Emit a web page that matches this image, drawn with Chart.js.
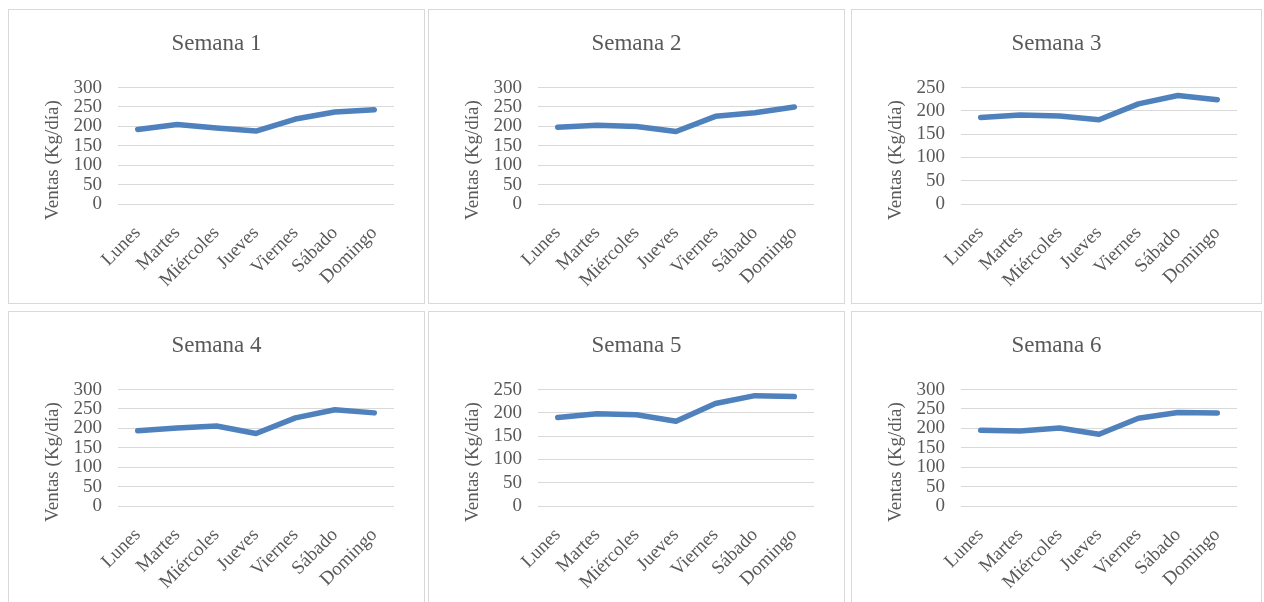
<!DOCTYPE html>
<html>
<head>
<meta charset="utf-8">
<script src="https://cdn.jsdelivr.net/npm/chart.js@4/dist/chart.umd.min.js"></script>
<style>
  html, body { margin: 0; padding: 0; background: #fff; overflow: hidden; width: 1264px; height: 602px; }
  .panel { position: absolute; box-sizing: border-box; border: 1px solid #d9d9d9; background: #fff; }
  .panel canvas { display: block; }
</style>
</head>
<body>
<div class="panel" style="left:8px;top:9px;width:417px;height:295px"><canvas id="c1" width="415" height="293"></canvas></div>
<div class="panel" style="left:428px;top:9px;width:417px;height:295px"><canvas id="c2" width="415" height="293"></canvas></div>
<div class="panel" style="left:851px;top:9px;width:411px;height:295px"><canvas id="c3" width="409" height="293"></canvas></div>
<div class="panel" style="left:8px;top:311px;width:417px;height:295px"><canvas id="c4" width="415" height="293"></canvas></div>
<div class="panel" style="left:428px;top:311px;width:417px;height:295px"><canvas id="c5" width="415" height="293"></canvas></div>
<div class="panel" style="left:851px;top:311px;width:411px;height:295px"><canvas id="c6" width="409" height="293"></canvas></div>
<script>
// datos (Kg/dia)
const dias = ['Lunes', 'Martes', 'Miércoles', 'Jueves', 'Viernes', 'Sábado', 'Domingo'];
const semana1 = [192, 205, 196, 188, 219, 237, 243];
const semana2 = [198, 203, 200, 187, 226, 235, 250];
const semana3 = [186, 191, 189, 181, 215, 233, 224];
const semana4 = [194, 201, 206, 187, 227, 248, 240];
const semana5 = [190, 198, 196, 182, 220, 237, 235];
const semana6 = [195, 193, 201, 185, 226, 241, 240];
const titulos = ['Semana 1', 'Semana 2', 'Semana 3', 'Semana 4', 'Semana 5', 'Semana 6'];
const maximos = [300, 300, 250, 300, 250, 300];
const ejeY = 'Ventas (Kg/día)';

const FUENTE = '"Liberation Serif", "DejaVu Serif", serif';
const GRIS = '#595959';

// titulo del eje Y, centrado un poco mas abajo que el area (como en Excel)
const tituloEje = {
  id: 'tituloEje',
  afterDraw(chart) {
    const { ctx, chartArea } = chart;
    ctx.save();
    ctx.translate(chartArea.left - 65, chartArea.bottom - 44);
    ctx.rotate(-Math.PI / 2);
    ctx.font = '19px ' + FUENTE;
    ctx.fillStyle = GRIS;
    ctx.textAlign = 'center';
    ctx.textBaseline = 'middle';
    ctx.fillText(ejeY, 0, 0);
    ctx.restore();
  },
};

function crear(id, titulo, valores, max) {
  const canvas = document.getElementById(id);
  const margenDer = canvas.width - 385;
  new Chart(canvas, {
    type: 'line',
    data: {
      labels: dias,
      datasets: [{
        data: valores,
        borderColor: '#4f81bd',
        borderWidth: 5.5,
        pointRadius: 0,
        tension: 0,
        borderCapStyle: 'round',
        borderJoinStyle: 'round',
      }],
    },
    options: {
      responsive: false,
      animation: false,
      layout: { padding: 0 },
      plugins: {
        legend: { display: false },
        tooltip: { enabled: false },
        title: {
          display: true,
          text: titulo,
          color: GRIS,
          font: { family: FUENTE, size: 23, weight: 'normal' },
          padding: { top: 20, bottom: 30 },
        },
      },
      scales: {
        x: {
          offset: true,
          grid: { display: false },
          border: { display: false },
          ticks: {
            color: GRIS,
            font: { family: FUENTE, size: 19 },
            minRotation: 45,
            maxRotation: 45,
            autoSkip: false,
            padding: 10,
          },
          afterFit: (s) => { s.height = 99; },
        },
        y: {
          min: 0,
          max: max,
          grid: { color: '#d9d9d9', drawTicks: false },
          border: { display: false },
          ticks: {
            stepSize: 50,
            autoSkip: false,
            color: GRIS,
            font: { family: FUENTE, size: 19, lineHeight: 1 },
            padding: 16,
          },
          afterFit: (s) => { s.width = 109; },
        },
        // espacio vacio a la derecha para que el titulo quede centrado en el panel
        margen: {
          type: 'linear',
          position: 'right',
          grid: { display: false },
          border: { display: false },
          ticks: { display: false },
          afterFit: (s) => { s.width = margenDer; },
        },
      },
    },
    plugins: [tituloEje],
  });
}

crear('c1', titulos[0], semana1, maximos[0]);
crear('c2', titulos[1], semana2, maximos[1]);
crear('c3', titulos[2], semana3, maximos[2]);
crear('c4', titulos[3], semana4, maximos[3]);
crear('c5', titulos[4], semana5, maximos[4]);
crear('c6', titulos[5], semana6, maximos[5]);
</script>
</body>
</html>
